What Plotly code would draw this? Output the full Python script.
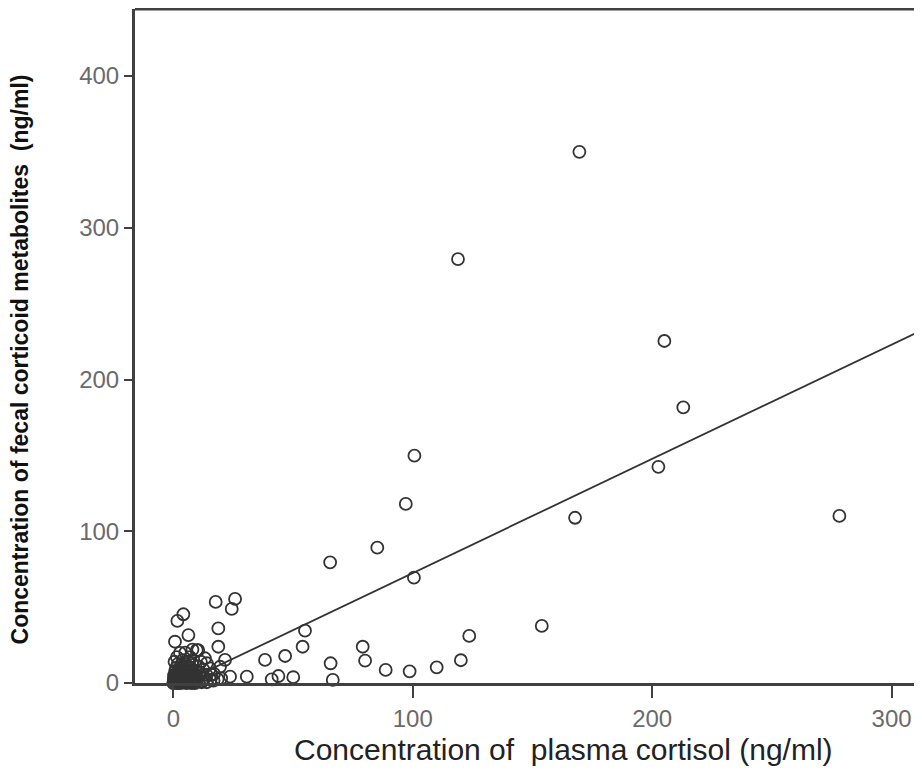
import plotly.graph_objects as go

# Plasma cortisol (x) vs fecal corticoid metabolites (y), ng/ml
plasma_cortisol = [
    169.6, 205.1, 213.0, 202.6, 167.8, 278.2, 118.9,
    100.7, 97.1, 85.2, 65.5, 100.5,
    123.6, 153.9, 120.1, 110.0,
    55.0, 54.0, 46.7, 38.3, 50.1, 43.9, 41.1, 65.7, 66.6, 79.1, 80.1, 88.7, 98.7,
    17.7, 25.8, 24.4, 4.2, 1.7, 18.8, 6.3, 18.8, 0.7, 10.4, 13.2, 30.7, 23.7,
    19.5, 15.3, 16.0, 21.6, 14.0, 2.8, 9.8,
    0.0, 0.5, 1.0, 1.5, 2.0, 2.5, 3.0, 3.5, 4.0, 4.5, 5.0, 5.5, 6.0, 6.5, 7.0,
    7.5, 8.0, 8.5, 9.0, 10.0, 11.0, 12.0, 0.3, 0.8, 1.2, 2.2, 3.2, 4.2, 5.2,
    6.2, 7.2, 8.2, 9.5, 10.5, 0.5, 1.5, 4.0, 5.0, 7.0, 8.0, 0.5, 2.0, 3.0,
    6.0, 13.0, 14.0, 11.5,
    0.2, 0.9, 1.4, 1.9, 2.4, 2.9, 3.4, 3.9, 4.4, 4.9, 5.4, 5.9, 6.4, 6.9, 7.4,
    7.9, 8.4, 8.9, 0.6, 1.1, 1.6, 2.1, 2.6, 3.1, 3.6, 4.1, 4.6, 5.1, 5.6, 6.1,
    6.6, 7.1, 7.6, 8.1, 8.6, 1.8, 3.3, 4.8, 6.3, 7.8, 9.3, 10.8, 12.5, 15.5,
    17.0, 18.5, 20.0, 11.8, 13.8, 16.8,
]
fecal_metabolites = [
    350.1, 225.4, 181.7, 142.5, 108.9, 110.1, 279.4,
    149.8, 118.0, 89.2, 79.5, 69.4,
    31.0, 37.6, 15.0, 10.3,
    34.5, 23.9, 17.8, 15.2, 3.8, 4.6, 2.4, 13.0, 2.0, 23.9, 14.7, 8.6, 7.7,
    53.4, 55.4, 48.8, 45.3, 40.9, 36.0, 31.6, 23.9, 27.2, 21.7, 16.3, 4.2, 4.2,
    10.7, 9.7, 5.3, 15.2, 13.0, 19.8, 21.7,
    0.0, 1.0, 2.0, 0.5, 3.0, 1.5, 0.0, 4.0, 2.0, 6.0, 1.0, 3.0, 0.5, 5.0, 2.0,
    8.0, 1.0, 4.0, 0.0, 2.0, 5.0, 1.0, 5.0, 8.0, 10.0, 7.0, 12.0, 9.0, 11.0,
    14.0, 10.0, 12.0, 8.0, 11.0, 14.0, 17.0, 15.0, 20.0, 17.0, 22.0, 3.0, 0.2, 6.0,
    8.0, 3.0, 0.5, 14.0,
    2.5, 0.5, 6.5, 1.0, 4.5, 7.5, 2.5, 0.5, 5.5, 3.5, 0.0, 6.5, 2.5, 0.5, 4.5,
    1.5, 6.5, 3.0, 3.5, 5.5, 0.0, 8.5, 2.0, 5.0, 7.0, 1.0, 9.5, 2.5, 7.5, 4.0,
    1.5, 6.0, 0.0, 3.5, 1.0, 12.5, 9.0, 13.5, 11.0, 13.0, 5.5, 7.0, 9.0, 2.0,
    6.0, 2.5, 3.0, 0.5, 5.5, 1.5,
]

# Linear fit line parameters
fit_intercept = -2.7
fit_slope = 0.752

x_range = [-16, 312.7]
y_range = [0, 444.2]
x_ticks = [0, 100, 200, 300]
y_ticks = [0, 100, 200, 300, 400]

x_title = "Concentration of  plasma cortisol (ng/ml)"
y_title = "Concentration of fecal corticoid metabolites  (ng/ml)"

fit_x = [0, x_range[1] + 10]
fit_y = [fit_intercept + fit_slope * v for v in fit_x]

fig = go.Figure()
fig.add_trace(go.Scatter(
    x=fit_x, y=fit_y, mode="lines",
    line=dict(color="#333333", width=1.8),
    hoverinfo="skip", showlegend=False,
))
fig.add_trace(go.Scatter(
    x=plasma_cortisol, y=fecal_metabolites, mode="markers",
    marker=dict(symbol="circle-open", size=12, color="#333333",
                line=dict(width=1.8, color="#333333")),
    showlegend=False, cliponaxis=False,
))

axis_font = dict(family="Liberation Sans, Arial, sans-serif", size=24, color="#6a6a6a")

fig.update_layout(
    width=914, height=765,
    margin=dict(l=127, r=0, t=1, b=90),
    paper_bgcolor="white", plot_bgcolor="white",
    xaxis=dict(
        range=x_range, tickvals=x_ticks, ticktext=[str(t) for t in x_ticks],
        showgrid=False, zeroline=False,
        showline=True, linecolor="#404040", linewidth=3,
        ticks="outside", ticklen=12, tickwidth=2, tickcolor="#404040",
        tickfont=axis_font,
    ),
    yaxis=dict(
        range=y_range, tickvals=y_ticks, ticktext=[str(t) for t in y_ticks],
        showgrid=False, zeroline=False,
        showline=True, linecolor="#404040", linewidth=3,
        ticks="outside", ticklen=8, tickwidth=2, tickcolor="#404040",
        tickfont=axis_font,
    ),
    shapes=[dict(type="line", xref="paper", yref="paper", x0=0, x1=1, y0=1, y1=1,
                 line=dict(color="#404040", width=3))],
    annotations=[
        dict(text=x_title, xref="paper", yref="paper", x=0.544, y=0,
             yshift=-66, xanchor="center", yanchor="middle", showarrow=False,
             font=dict(family="Liberation Sans, Arial, sans-serif", size=30, color="#222222")),
        dict(text="<b>" + y_title + "</b>", xref="paper", yref="paper", x=0, y=0.48,
             xshift=-115, xanchor="center", yanchor="middle", textangle=-90, showarrow=False,
             font=dict(family="Liberation Sans, Arial, sans-serif", size=23, color="#111111")),
    ],
)

fig.write_html("out.html")
